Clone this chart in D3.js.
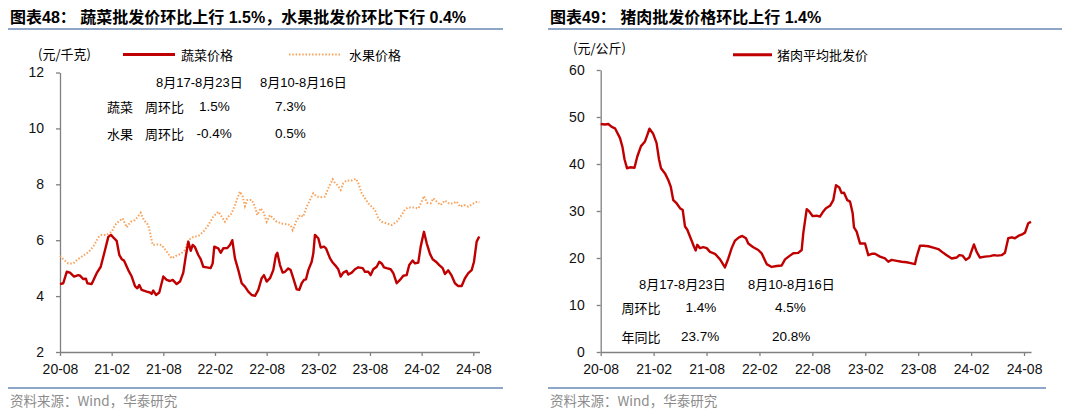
<!DOCTYPE html>
<html><head><meta charset="utf-8">
<script src="https://cdn.jsdelivr.net/npm/d3@7/dist/d3.min.js"></script>
<style>body{margin:0;background:#fff}svg{display:block}</style>
</head><body><svg id="c" width="1080" height="411"></svg>
<script>
// ---------- DATA ----------
const xTickValues = [0, 6, 12, 18, 24, 30, 36, 42, 48]; // months since 2020-08
const xTickLabels = ["20-08","21-02","21-08","22-02","22-08","23-02","23-08","24-02","24-08"];
const leftYTicks = [2, 4, 6, 8, 10, 12];
const rightYTicks = [0, 10, 20, 30, 40, 50, 60];

// [months since 2020-08-01, 元/千克]
const vegSeries = [
[0,4.43],[0.38,4.46],[0.78,4.87],[1.16,4.84],[1.63,4.70],[2.13,4.75],[2.32,4.73],[2.71,4.61],[3.02,4.62],[3.17,4.46],
[3.68,4.43],[4.26,4.82],[4.73,5.05],[5.23,5.65],[5.61,6.12],[5.92,6.19],[6.27,6.07],[6.58,5.98],[6.89,5.47],[7.17,5.32],
[7.43,5.27],[7.93,4.93],[8.33,4.70],[8.71,4.36],[8.98,4.28],[9.21,4.40],[9.49,4.22],[10.07,4.16],[10.45,4.13],[10.65,4.08],
[10.83,4.20],[11.15,4.04],[11.53,4.13],[12.0,4.70],[12.39,4.58],[12.77,4.54],[13.09,4.58],[13.55,4.43],[13.94,4.52],[14.32,4.84],
[14.60,5.41],[14.90,5.95],[15.18,5.62],[15.41,5.83],[15.68,5.75],[16.06,5.47],[16.34,5.32],[16.64,5.05],[17.04,5.03],[17.50,5.0],
[17.73,5.17],[17.92,5.77],[18.38,5.71],[18.66,5.55],[18.96,5.71],[19.43,5.72],[19.74,5.83],[20.01,6.0],[20.32,5.35],[20.71,4.93],
[21.10,4.46],[21.48,4.34],[21.87,4.16],[22.26,4.04],[22.65,4.01],[23.03,4.22],[23.42,4.64],[23.69,4.75],[24.0,4.52],[24.39,4.64],
[24.77,4.93],[25.08,5.47],[25.24,5.55],[25.55,5.11],[25.86,4.84],[26.13,4.87],[26.51,4.99],[26.79,4.93],[27.09,4.64],[27.49,4.24],
[27.79,4.22],[28.07,4.46],[28.34,4.58],[28.57,4.60],[28.84,4.93],[29.23,5.23],[29.42,5.53],[29.61,6.19],[30.0,6.07],[30.28,5.74],
[30.66,5.77],[30.89,5.71],[31.36,5.35],[31.67,5.20],[31.94,5.11],[32.32,4.96],[32.60,4.70],[32.90,4.84],[33.29,4.90],[33.48,4.77],
[33.88,4.84],[34.26,4.96],[34.64,5.03],[35.15,5.0],[35.42,4.87],[35.80,4.87],[36.08,4.75],[36.38,4.96],[36.78,5.05],[37.08,5.23],
[37.36,5.17],[37.63,5.03],[37.94,5.0],[38.40,4.96],[38.71,4.82],[39.10,4.46],[39.48,4.58],[39.87,4.73],[40.26,4.75],[40.56,5.11],
[40.96,5.27],[41.23,5.17],[41.61,5.20],[41.89,5.77],[42.27,6.30],[42.59,5.89],[42.97,5.51],[43.28,5.32],[43.66,5.23],[44.05,5.11],
[44.44,5.0],[44.71,4.79],[45.09,4.92],[45.49,4.73],[45.87,4.46],[46.25,4.36],[46.65,4.36],[47.03,4.64],[47.42,4.82],[47.81,4.93],
[48.08,5.23],[48.39,5.95],[48.69,6.13]
];
const fruitSeries = [
[0,5.44],[0.38,5.32],[0.96,5.17],[1.54,5.17],[2.13,5.33],[2.71,5.45],[3.29,5.57],[3.87,5.77],[4.45,6.10],[4.84,6.19],
[5.42,6.19],[6.0,6.30],[6.39,6.54],[6.77,6.66],[7.28,6.78],[7.75,6.46],[8.21,6.66],[8.71,6.72],[9.09,6.86],[9.37,6.98],
[9.75,6.72],[10.25,6.54],[10.77,5.83],[11.23,5.85],[11.81,5.83],[12.39,5.59],[12.97,5.35],[13.47,5.44],[14.02,5.51],[14.52,5.65],
[14.90,6.0],[15.48,6.12],[16.06,6.15],[16.64,6.30],[17.22,6.54],[17.80,6.84],[18.38,7.02],[18.78,6.84],[19.16,6.66],[19.54,6.84],
[19.94,6.96],[20.32,7.26],[20.90,7.74],[21.22,7.56],[21.48,7.22],[21.75,7.44],[22.26,7.44],[22.65,7.2],[22.91,6.90],[23.31,7.14],
[23.61,7.02],[24.0,6.66],[24.39,6.90],[24.77,6.78],[25.17,6.66],[25.75,6.60],[26.33,6.57],[26.79,6.54],[27.02,6.36],[27.41,6.66],
[27.87,6.90],[28.25,6.84],[28.65,7.2],[29.03,7.44],[29.42,7.68],[29.81,7.56],[30.39,7.54],[30.77,7.56],[31.16,7.86],[31.67,8.18],
[31.94,8.04],[32.20,7.98],[32.60,7.8],[32.90,8.04],[33.29,8.14],[33.88,8.14],[34.37,8.2],[34.64,8.04],[35.04,7.68],[35.42,7.5],
[35.80,7.32],[36.20,7.2],[36.58,7.08],[36.96,6.78],[37.36,6.66],[37.94,6.6],[38.52,6.54],[39.10,6.66],[39.68,6.9],[40.06,7.1],
[40.45,7.17],[41.03,7.17],[41.61,7.14],[42.00,7.38],[42.27,7.58],[42.65,7.34],[43.05,7.32],[43.35,7.5],[43.75,7.38],[44.21,7.26],
[44.71,7.42],[45.21,7.30],[45.67,7.32],[46.07,7.38],[46.45,7.2],[46.92,7.26],[47.42,7.2],[47.93,7.3],[48.46,7.38],[48.69,7.36]
];
// [months since 2020-08-01, 元/公斤]
const porkSeries = [
[0,48.5],[0.49,48.4],[0.86,48.5],[1.25,47.9],[1.62,47.6],[2.19,45.5],[2.47,43.6],[2.70,41.0],[2.98,39.1],[3.32,39.3],
[3.83,39.2],[4.15,41.6],[4.57,43.8],[5.02,44.8],[5.25,46.0],[5.53,47.5],[5.93,46.5],[6.33,44.5],[6.61,41.0],[6.84,39.1],
[7.29,38.0],[7.66,36.6],[7.94,35.2],[8.23,32.3],[8.62,31.6],[8.99,30.6],[9.30,30.2],[9.56,26.7],[9.82,26.0],[10.20,24.2],
[10.58,22.4],[10.77,21.6],[10.95,22.8],[11.26,22.1],[11.63,22.3],[12.02,22.1],[12.39,21.3],[12.96,20.9],[13.53,19.7],[14.09,18.0],
[14.47,19.9],[14.85,22.1],[15.23,23.7],[15.68,24.4],[16.05,24.7],[16.47,24.2],[16.73,23.1],[17.30,22.3],[17.87,21.7],[18.25,21.0],
[18.82,18.7],[19.39,18.1],[19.95,18.3],[20.52,18.4],[20.90,19.7],[21.38,20.4],[21.84,21.0],[22.40,21.1],[22.79,21.7],[22.97,25.3],
[23.36,30.4],[23.65,29.9],[24.04,28.9],[24.49,29.0],[24.86,28.8],[25.24,29.9],[25.54,30.6],[26.00,31.1],[26.37,32.3],[26.68,35.5],
[27.05,35.0],[27.32,33.8],[27.59,33.9],[27.96,32.3],[28.27,32.0],[28.57,29.5],[28.72,26.5],[29.02,25.6],[29.40,23.1],[29.97,23.1],
[30.34,20.6],[30.73,20.9],[31.10,20.9],[31.67,20.3],[32.23,19.9],[32.61,19.2],[32.99,19.6],[33.56,19.4],[34.13,19.2],[34.69,19.1],
[35.15,18.9],[35.63,18.7],[35.83,20.3],[36.20,22.6],[36.58,22.6],[37.14,22.5],[37.71,22.2],[38.28,21.9],[38.84,21.1],[39.23,20.6],
[39.80,19.9],[40.36,20.1],[40.66,20.6],[41.04,20.5],[41.42,19.6],[41.79,20.1],[42.32,22.9],[42.63,21.3],[43.00,20.1],[43.57,20.3],
[44.14,20.4],[44.59,20.6],[44.97,20.5],[45.46,20.6],[45.84,21.1],[46.21,24.2],[46.60,24.4],[46.97,24.2],[47.35,24.7],[47.85,25.1],
[48.11,25.4],[48.48,27.4],[48.79,27.7]
];

const leftTitle = "图表48： 蔬菜批发价环比上行 1.5%，水果批发价环比下行 0.4%";
const rightTitle = "图表49： 猪肉批发价格环比上行 1.4%";
const source = "资料来源：Wind，华泰研究";

// ---------- STYLE ----------
const CJK = "'Noto Sans CJK SC', sans-serif";
const NUM = "'Liberation Sans', Arial, 'Noto Sans CJK SC', sans-serif";
const RED = "#C00000", ORANGE = "#F7A35C", AXIS = "#808080", RULE = "#8EA6C8";

const svg = d3.select("#c");
svg.append("rect").attr("width",1080).attr("height",411).attr("fill","#fff");

function txt(x, y, s, opt = {}) {
  return svg.append("text").attr("x", x).attr("y", y)
    .attr("dominant-baseline", "central")
    .attr("font-family", opt.font || NUM)
    .attr("font-size", opt.size || 13)
    .attr("font-weight", opt.weight || "normal")
    .attr("fill", opt.fill || "#000")
    .attr("text-anchor", opt.anchor || "start")
    .text(s);
}
function rule(x1, x2, y) {
  svg.append("line").attr("x1", x1).attr("x2", x2).attr("y1", y).attr("y2", y)
    .attr("stroke", RULE).attr("stroke-width", 2);
}

function drawAxes(x, y, yTicks, plotLeft, plotBottom) {
  const gx = svg.append("g").attr("transform", `translate(0,${plotBottom})`)
    .call(d3.axisBottom(x).tickValues(xTickValues).tickFormat((d, i) => xTickLabels[i])
      .tickSizeInner(4).tickSizeOuter(0).tickPadding(8));
  const gy = svg.append("g").attr("transform", `translate(${plotLeft},0)`)
    .call(d3.axisLeft(y).tickValues(yTicks).tickSizeInner(4).tickSizeOuter(0).tickPadding(12));
  [gx, gy].forEach(g => {
    g.select(".domain").attr("stroke", AXIS).attr("stroke-width", 1.3);
    g.selectAll(".tick line").attr("stroke", AXIS).attr("stroke-width", 1.3);
    g.selectAll(".tick text").attr("font-family", NUM).attr("font-size", 14).attr("fill", "#111");
  });
}

// ---------- LEFT CHART ----------
txt(10, 17, leftTitle, {font: NUM, size: 16, weight: "bold"});
rule(8, 503, 29);
rule(8, 503, 388);
txt(10, 400, source, {font: CJK, size: 13.5, fill: "#8c8c8c"});

const xL = d3.scaleLinear().domain([0, 48.72]).range([60, 479.5]);
const yL = d3.scaleLinear().domain([2, 12]).range([352, 72.5]);
drawAxes(xL, yL, leftYTicks, 60, 352);

const lineL = d3.line().x(d => xL(d[0])).y(d => yL(d[1])).curve(d3.curveLinear);
svg.append("path").datum(fruitSeries).attr("d", lineL).attr("fill", "none")
  .attr("stroke", ORANGE).attr("stroke-width", 2).attr("stroke-dasharray", "1.5 1.8");
svg.append("path").datum(vegSeries).attr("d", lineL).attr("fill", "none")
  .attr("stroke", RED).attr("stroke-width", 2.4).attr("stroke-linejoin", "round");

txt(38, 53, "(元/千克)", {font: CJK, size: 13});
svg.append("line").attr("x1",123).attr("x2",175).attr("y1",54.5).attr("y2",54.5).attr("stroke",RED).attr("stroke-width",3);
txt(181, 54, "蔬菜价格", {font: CJK, size: 13});
svg.append("line").attr("x1",289).attr("x2",341).attr("y1",54.5).attr("y2",54.5).attr("stroke",ORANGE)
  .attr("stroke-width",2).attr("stroke-dasharray","1.5 1.8");
txt(349, 54, "水果价格", {font: CJK, size: 13});

txt(156, 82, "8月17-8月23日", {size: 13});
txt(260, 82, "8月10-8月16日", {size: 13});
txt(107, 106, "蔬菜", {font: CJK, size: 13});
txt(145, 106, "周环比", {font: CJK, size: 13});
txt(199, 106, "1.5%", {size: 13.5});
txt(275, 106, "7.3%", {size: 13.5});
txt(107, 133, "水果", {font: CJK, size: 13});
txt(145, 133, "周环比", {font: CJK, size: 13});
txt(196.5, 133, "-0.4%", {size: 13.5});
txt(275, 133, "0.5%", {size: 13.5});

// ---------- RIGHT CHART ----------
txt(550, 17, rightTitle, {font: NUM, size: 16, weight: "bold"});
rule(548, 1062, 29);
rule(548, 1046, 388);
txt(550, 400, source, {font: CJK, size: 13.5, fill: "#8c8c8c"});

const xR = d3.scaleLinear().domain([0, 48.79]).range([600.7, 1031]);
const yR = d3.scaleLinear().domain([0, 60]).range([352, 70]);
drawAxes(xR, yR, rightYTicks, 600.7, 352);

const lineR = d3.line().x(d => xR(d[0])).y(d => yR(d[1]));
svg.append("path").datum(porkSeries).attr("d", lineR).attr("fill", "none")
  .attr("stroke", RED).attr("stroke-width", 2.4).attr("stroke-linejoin", "round");

txt(573, 47, "(元/公斤)", {font: CJK, size: 13});
svg.append("line").attr("x1",733).attr("x2",772).attr("y1",54.7).attr("y2",54.7).attr("stroke",RED).attr("stroke-width",3);
txt(777, 54.5, "猪肉平均批发价", {font: CJK, size: 13});

txt(639, 284, "8月17-8月23日", {size: 13});
txt(748, 284, "8月10-8月16日", {size: 13});
txt(621.5, 307, "周环比", {font: CJK, size: 13});
txt(685.5, 307, "1.4%", {size: 13.5});
txt(775, 307, "4.5%", {size: 13.5});
txt(621.5, 336, "年同比", {font: CJK, size: 13});
txt(681, 336, "23.7%", {size: 13.5});
txt(772, 336, "20.8%", {size: 13.5});
</script></body></html>
